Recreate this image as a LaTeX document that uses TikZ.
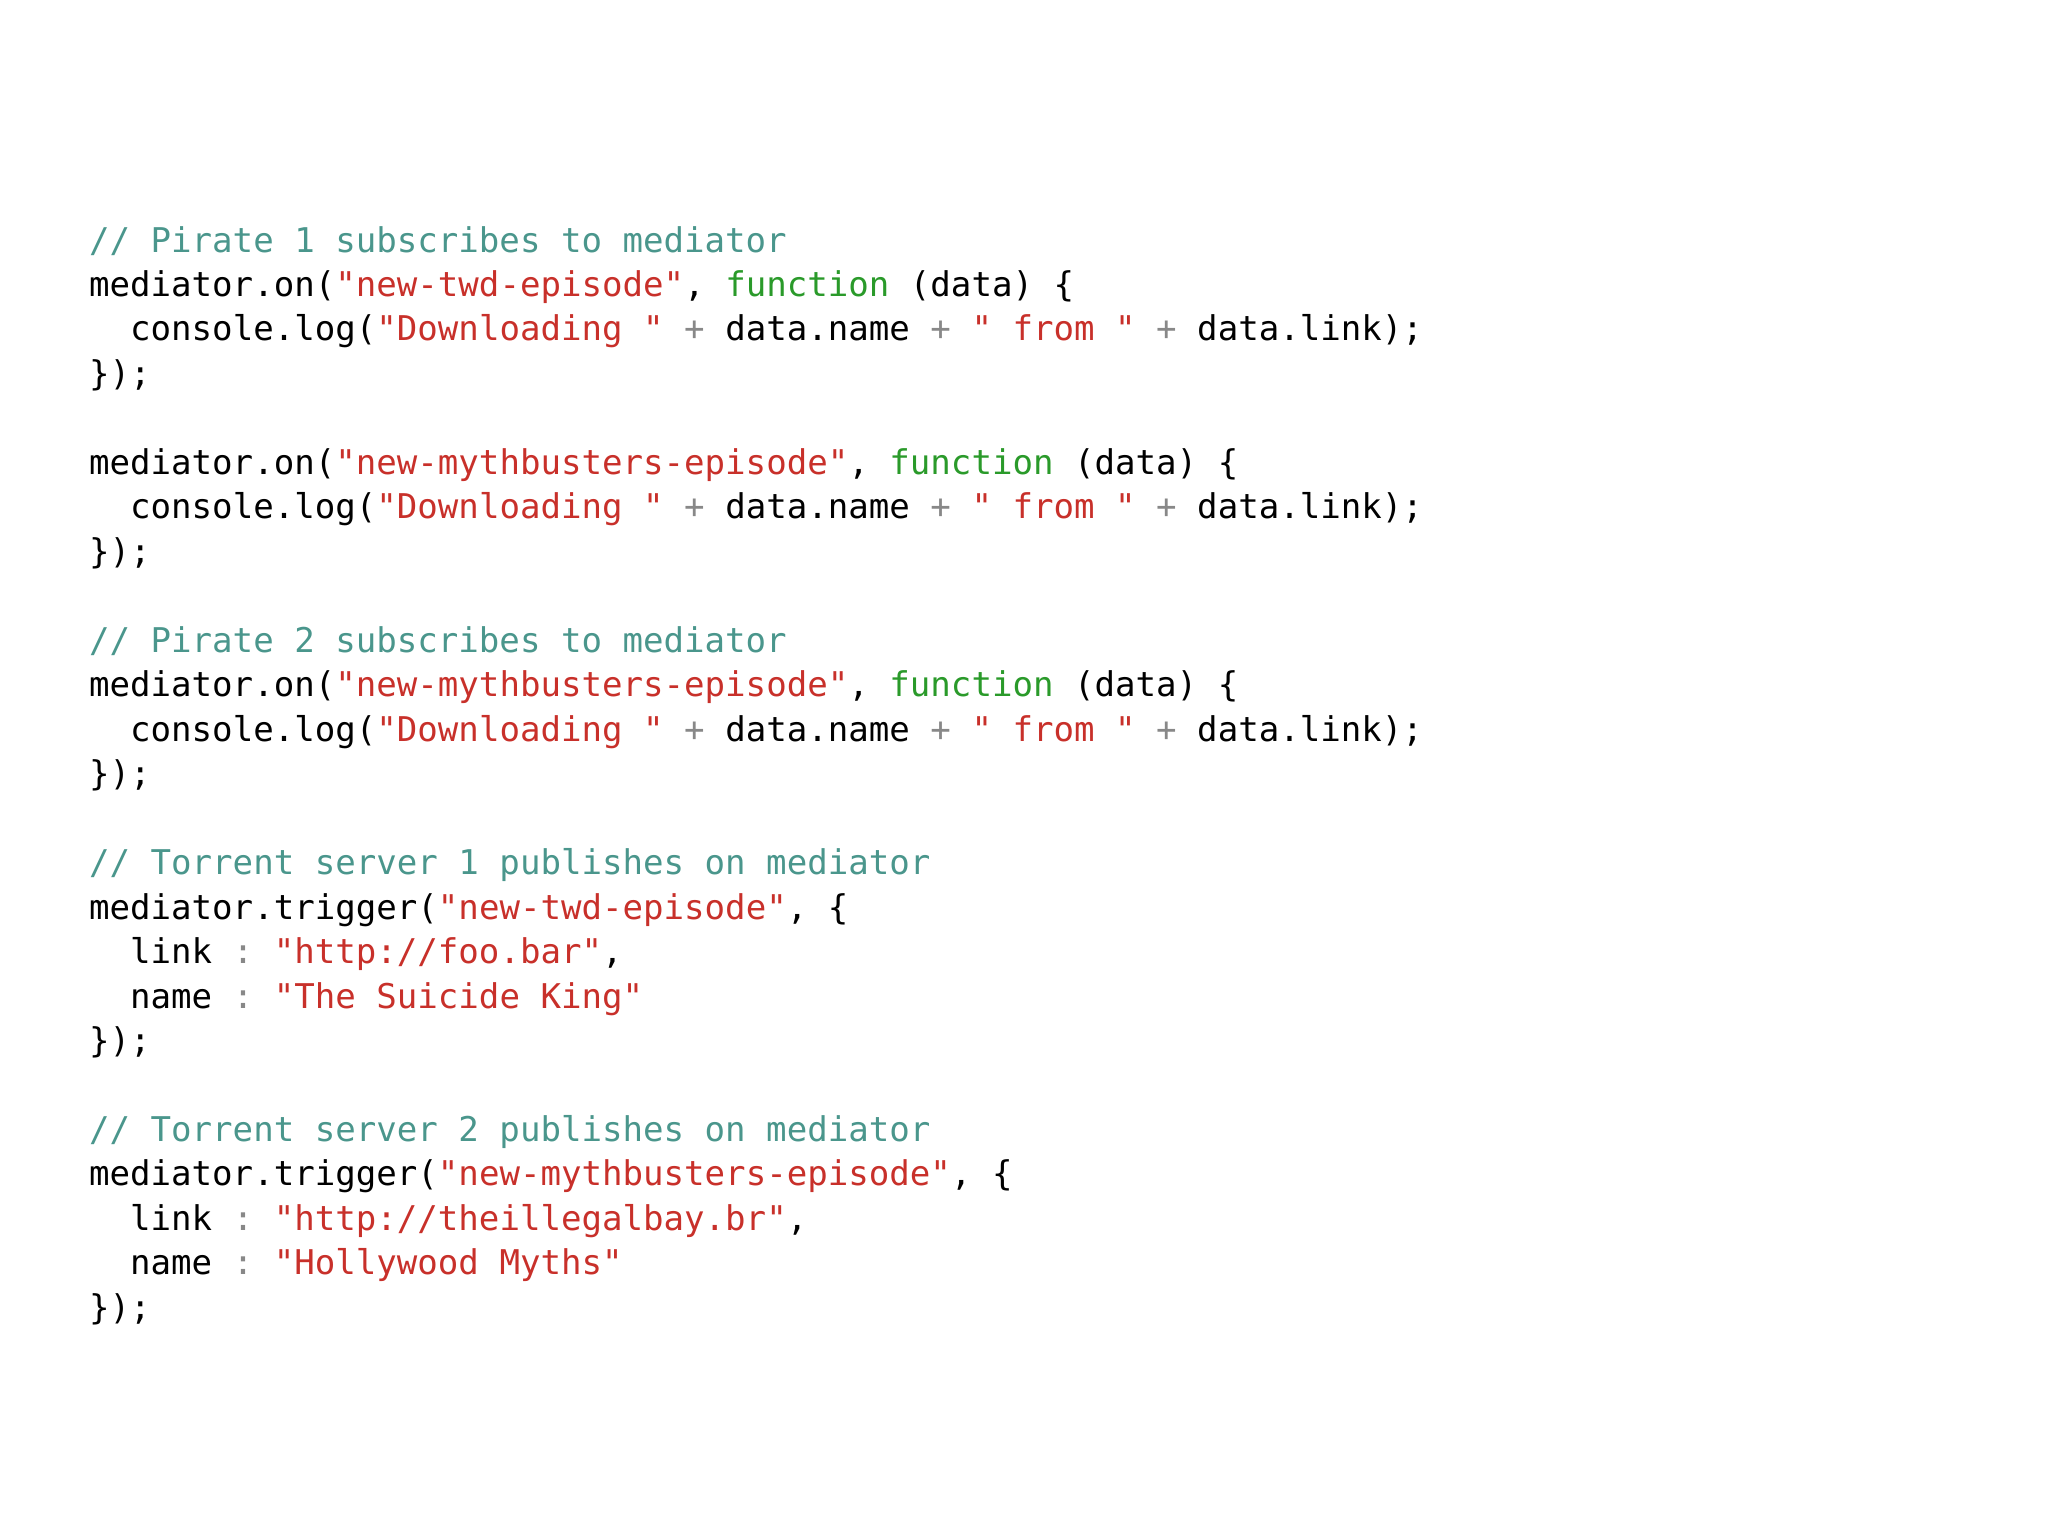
\documentclass[tikz,border=0pt]{standalone}
\usepackage{fontspec}
\setmonofont{DejaVu Sans Mono}
\definecolor{cmt}{HTML}{4A968C}
\definecolor{str}{HTML}{C8302A}
\definecolor{kwd}{HTML}{2A9A2A}
\definecolor{opc}{HTML}{888888}
\newcommand{\cmx}[1]{\textcolor{cmt}{#1}}
\newcommand{\stx}[1]{\textcolor{str}{#1}}
\newcommand{\kwx}[1]{\textcolor{kwd}{#1}}
\newcommand{\opx}[1]{\textcolor{opc}{#1}}
\newcommand{\ind}{\phantom{xx}}
\newcommand{\codeln}[3]{\node[codeline] (#1) at (67,{191+33.7*#2}) {#3};}
\begin{document}
\begin{tikzpicture}[x=0.0132cm,y=-0.0132cm,
  codeline/.style={anchor=base west,inner sep=0pt,font=\ttfamily\fontsize{9.7}{12}\selectfont,text=black}]
\useasboundingbox (0,0) rectangle (1552,1164);
\codeln{l0}{0}{\cmx{// Pirate 1 subscribes to mediator}}
\codeln{l1}{1}{mediator.on(\stx{"new-twd-episode"}, \kwx{function} (data) \{}
\codeln{l2}{2}{\ind console.log(\stx{"Downloading "} \opx{+} data.name \opx{+} \stx{" from "} \opx{+} data.link);}
\codeln{l3}{3}{\});}
\codeln{l5}{5}{mediator.on(\stx{"new-mythbusters-episode"}, \kwx{function} (data) \{}
\codeln{l6}{6}{\ind console.log(\stx{"Downloading "} \opx{+} data.name \opx{+} \stx{" from "} \opx{+} data.link);}
\codeln{l7}{7}{\});}
\codeln{l9}{9}{\cmx{// Pirate 2 subscribes to mediator}}
\codeln{l10}{10}{mediator.on(\stx{"new-mythbusters-episode"}, \kwx{function} (data) \{}
\codeln{l11}{11}{\ind console.log(\stx{"Downloading "} \opx{+} data.name \opx{+} \stx{" from "} \opx{+} data.link);}
\codeln{l12}{12}{\});}
\codeln{l14}{14}{\cmx{// Torrent server 1 publishes on mediator}}
\codeln{l15}{15}{mediator.trigger(\stx{"new-twd-episode"}, \{}
\codeln{l16}{16}{\ind link \opx{:} \stx{"http://foo.bar"},}
\codeln{l17}{17}{\ind name \opx{:} \stx{"The Suicide King"}}
\codeln{l18}{18}{\});}
\codeln{l20}{20}{\cmx{// Torrent server 2 publishes on mediator}}
\codeln{l21}{21}{mediator.trigger(\stx{"new-mythbusters-episode"}, \{}
\codeln{l22}{22}{\ind link \opx{:} \stx{"http://theillegalbay.br"},}
\codeln{l23}{23}{\ind name \opx{:} \stx{"Hollywood Myths"}}
\codeln{l24}{24}{\});}
\end{tikzpicture}
\end{document}
